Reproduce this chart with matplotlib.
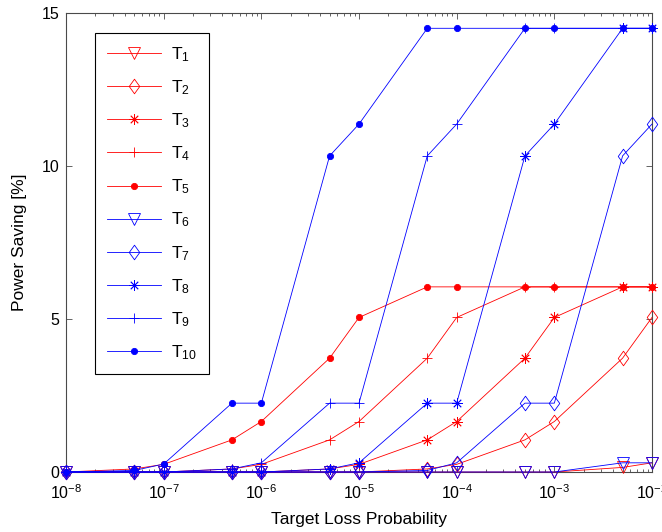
import matplotlib
matplotlib.use("Agg")
import matplotlib.pyplot as plt
from matplotlib.path import Path
from matplotlib.ticker import LogLocator, NullFormatter, FixedLocator

plt.rcParams["font.family"] = ["Liberation Sans", "DejaVu Sans"]
plt.rcParams["mathtext.fontset"] = "custom"
plt.rcParams["mathtext.rm"] = "Liberation Sans"
plt.rcParams["mathtext.it"] = "Liberation Sans"
plt.rcParams["mathtext.default"] = "rm"

# Target loss probabilities (x axis)
loss_prob = [1e-8, 5e-8, 1e-7, 5e-7, 1e-6, 5e-6, 1e-5, 5e-5, 1e-4, 5e-4, 1e-3, 5e-3, 1e-2]

# Power saving [%] for each configuration
T1 = [0, 0, 0, 0, 0, 0, 0, 0, 0, 0, 0, 0.15, 0.3]
T2 = [0, 0, 0, 0, 0, 0, 0, 0.1, 0.25, 1.05, 1.65, 3.72, 5.05]
T3 = [0, 0, 0, 0, 0, 0.1, 0.25, 1.05, 1.65, 3.72, 5.05, 6.05, 6.05]
T4 = [0, 0, 0, 0.1, 0.25, 1.05, 1.65, 3.72, 5.05, 6.05, 6.05, 6.05, 6.05]
T5 = [0, 0.1, 0.25, 1.05, 1.65, 3.72, 5.05, 6.05, 6.05, 6.05, 6.05, 6.05, 6.05]
T6 = [0, 0, 0, 0, 0, 0, 0, 0, 0, 0, 0, 0.3, 0.3]
T7 = [0, 0, 0, 0, 0, 0, 0, 0.05, 0.3, 2.25, 2.25, 10.33, 11.37]
T8 = [0, 0, 0, 0, 0, 0.1, 0.3, 2.25, 2.25, 10.33, 11.37, 14.5, 14.5]
T9 = [0, 0, 0, 0.1, 0.3, 2.25, 2.25, 10.33, 11.37, 14.5, 14.5, 14.5, 14.5]
T10 = [0, 0.05, 0.26, 2.25, 2.25, 10.33, 11.37, 14.5, 14.5, 14.5, 14.5, 14.5, 14.5]

series = [T1, T2, T3, T4, T5, T6, T7, T8, T9, T10]
labels = ["T$_{%d}$" % i for i in range(1, 11)]

x_ticks = [1e-8, 1e-7, 1e-6, 1e-5, 1e-4, 1e-3, 1e-2]
y_ticks = [0, 5, 10, 15]

# tall diamond, narrower than it is high
tall_diamond = Path([(0, 1), (0.72, 0), (0, -1), (-0.72, 0), (0, 1)],
                    [Path.MOVETO, Path.LINETO, Path.LINETO, Path.LINETO, Path.CLOSEPOLY])

marker_styles = [
    dict(marker="v", ms=9, mfc="none"),
    dict(marker=tall_diamond, ms=10.5, mfc="none"),
    dict(marker=(8, 2, 0), ms=7.5),
    dict(marker="+", ms=7.5),
    dict(marker="o", ms=4.5),
]

fig = plt.figure(figsize=(6.62, 5.32), dpi=100)
ax = fig.add_axes([66 / 662, 60 / 532, 586 / 662, 459 / 532])

for i, (vals, lab) in enumerate(zip(series, labels)):
    color = "#ff0000" if i < 5 else "#0000ff"
    st = dict(marker_styles[i % 5])
    ms = st.pop("ms")
    mk = st.pop("marker")
    mfc = st.pop("mfc", color)
    ax.plot(loss_prob, vals, color=color, lw=0.6, marker=mk, ms=ms,
            mfc=mfc, mec=color, mew=0.6, label=lab, clip_on=False, zorder=3 + i)

ax.set_xscale("log")
ax.set_xlim(1e-8, 1e-2)
ax.set_ylim(0, 15)
ax.xaxis.set_major_locator(FixedLocator(x_ticks))
ax.xaxis.set_minor_locator(LogLocator(base=10, subs=range(2, 10), numticks=20))
ax.xaxis.set_minor_formatter(NullFormatter())
ax.yaxis.set_major_locator(FixedLocator(y_ticks))
ax.set_yticklabels([str(v) for v in y_ticks])

spine_color = "#4a4a4a"
for sp in ax.spines.values():
    sp.set_color(spine_color)
    sp.set_linewidth(0.8)
ax.tick_params(which="both", direction="in", top=True, right=True, color=spine_color,
               labelsize=11.5, width=0.6)
ax.tick_params(which="major", length=4, pad=5)
ax.tick_params(axis="x", which="major", pad=8)
ax.tick_params(which="minor", length=2.5)

ax.set_xlabel("Target Loss Probability", fontsize=12.5, labelpad=7)
ax.set_ylabel("Power Saving [%]", fontsize=12.5, labelpad=10)

leg = ax.legend(loc="upper left", bbox_to_anchor=(29 / 586, 439 / 459), borderaxespad=0,
                fontsize=12.5, handlelength=3.1, handletextpad=0.55, borderpad=0.7,
                labelspacing=0.83, fancybox=False, framealpha=1, edgecolor="black")
leg.get_frame().set_linewidth(0.8)

fig.savefig("out.png", dpi=100)
